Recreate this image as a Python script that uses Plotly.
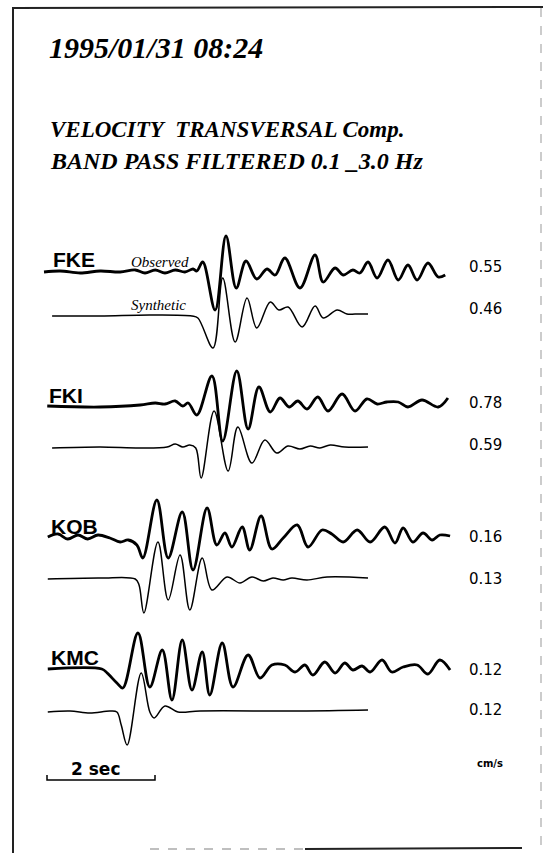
import plotly.graph_objects as go

W, H = 543, 853

# ---------------- data (time in s, amplitude in display units, up = positive) ----------------
stations = ["FKE", "FKI", "KOB", "KMC"]
obs_peaks = ["0.55", "0.78", "0.16", "0.12"]
syn_peaks = ["0.46", "0.59", "0.13", "0.12"]

fke_obs_t = [0.00, 0.30, 0.67, 1.04, 1.41, 1.69, 1.87, 2.06, 2.24, 2.43, 2.61, 2.76, 2.83, 2.94, 3.17, 3.37,
             3.56, 3.74, 3.94, 4.13, 4.28, 4.46, 4.74, 5.02, 5.17, 5.39, 5.54, 5.72, 5.85, 6.00, 6.17, 6.37,
             6.56, 6.74, 6.91, 7.11, 7.30, 7.43]
fke_obs_a = [0, 1, -1, 1, 0, 2, -1, 2, -1, 2, 0, 3, 1, 10, -38, 36,
             -16, 11, -7, 3, -3, 14, -16, 17, -10, 4, -3, 2, -1, 10, -6, 12,
             -8, 7, -8, 9, -5, -3]

fke_syn_t = [0.15, 1.04, 1.96, 2.74, 2.85, 3.13, 3.31, 3.54, 3.76, 3.94, 4.19, 4.35, 4.52, 4.78, 5.02,
             5.17, 5.43, 5.61, 5.76, 6.00]
fke_syn_a = [0, 0, 1, 0, -2, -32, 38, -26, 18, -12, 14, 6, 9, -11, 10,
             -2, 6, 2, 2, 2]

fki_obs_t = [0.06, 1.04, 1.78, 2.06, 2.24, 2.43, 2.57, 2.67, 2.83, 3.11, 3.31, 3.57, 3.78, 3.98, 4.19,
             4.37, 4.54, 4.70, 4.87, 5.07, 5.26, 5.52, 5.76, 5.98, 6.17, 6.35, 6.56, 6.74, 7.00, 7.30, 7.48]
fki_obs_a = [0, -1, 1, 3, 2, 5, 0, 3, -9, 30, -35, 35, -23, 19, -6,
             8, -1, 5, -3, 9, -5, 12, -5, 7, 2, 4, 4, -1, 6, -1, 8]

fki_syn_t = [0.15, 1.04, 1.78, 2.28, 2.43, 2.57, 2.70, 2.81, 2.91, 3.15, 3.41, 3.59, 3.85, 4.09, 4.31,
             4.52, 4.74, 4.93, 5.11, 5.30, 5.57, 6.00]
fki_syn_a = [0, 1, 0, 1, 4, 1, 3, 0, -30, 37, -23, 21, -15, 8, -5,
             2, -1, 2, 0, 3, 1, 1]

kob_obs_t = [0.07, 0.26, 0.44, 0.63, 0.81, 1.00, 1.22, 1.41, 1.56, 1.72, 1.83, 2.09, 2.30, 2.56, 2.76,
             3.02, 3.20, 3.35, 3.48, 3.67, 3.81, 4.02, 4.22, 4.43, 4.69, 4.89, 5.15, 5.33, 5.54, 5.80,
             6.04, 6.31, 6.50, 6.65, 6.83, 7.02, 7.19, 7.33, 7.52]
kob_obs_a = [0, 3, -2, 2, -2, 2, -1, -5, -3, -8, -21, 37, -21, 25, -33,
             29, -8, 4, -10, 10, -13, 21, -12, -1, 12, -10, 7, 3, -5, 7,
             -5, 10, -6, 9, -5, 4, -3, 2, 1]

kob_syn_t = [0.07, 1.04, 1.69, 1.76, 1.85, 2.11, 2.30, 2.52, 2.70, 2.93, 3.11, 3.39, 3.63, 3.85, 4.06,
             4.24, 4.43, 4.59, 4.87, 5.24, 6.00]
kob_syn_a = [0, 1, 0, -6, -34, 37, -21, 24, -31, 21, -11, 2, -4, 2, -2,
             1, -1, 1, -1, 2, 1]

kmc_obs_t = [0.07, 1.07, 1.17, 1.35, 1.46, 1.74, 1.96, 2.19, 2.37, 2.56, 2.74, 2.93, 3.07, 3.30, 3.50,
             3.78, 4.00, 4.22, 4.46, 4.65, 4.83, 4.98, 5.20, 5.39, 5.57, 5.72, 5.89, 6.04, 6.26, 6.44,
             6.65, 6.91, 7.11, 7.33, 7.52]
kmc_obs_a = [0, 0, -4, -14, -19, 36, -18, 19, -31, 29, -21, 17, -26, 26, -18,
             14, -9, 4, 4, -3, 4, -6, 7, -4, 6, -1, 3, -3, 9, -3,
             2, 4, -5, 9, -1]

kmc_syn_t = [0.07, 0.48, 0.85, 1.22, 1.35, 1.43, 1.54, 1.80, 1.96, 2.04, 2.24, 2.48, 2.89, 4.74, 6.00]
kmc_syn_a = [0, 1, -1, 1, 0, -13, -33, 39, 0, -6, 6, 0, 1, 1, 2]

observed = [(fke_obs_t, fke_obs_a), (fki_obs_t, fki_obs_a), (kob_obs_t, kob_obs_a), (kmc_obs_t, kmc_obs_a)]
synthetic = [(fke_syn_t, fke_syn_a), (fki_syn_t, fki_syn_a), (kob_syn_t, kob_syn_a), (kmc_syn_t, kmc_syn_a)]

scale_sec = 2

# ---------------- layout geometry (pixels) ----------------
X0, PXS = 44, 54                       # pixel of t=0, pixels per second
obs_base = [272, 406, 537, 669]
syn_base = [316, 448, 579, 712]

fig = go.Figure()

for (t, a), b in zip(observed, obs_base):
    fig.add_trace(go.Scatter(x=t, y=[b - v for v in a], mode="lines",
                             line=dict(color="black", width=2.8, shape="spline", smoothing=1.0),
                             hoverinfo="skip"))
for (t, a), b in zip(synthetic, syn_base):
    fig.add_trace(go.Scatter(x=t, y=[b - v for v in a], mode="lines",
                             line=dict(color="black", width=1.5, shape="spline", smoothing=1.0),
                             hoverinfo="skip"))

# time scale bar
t0 = (47 - X0) / PXS
fig.add_trace(go.Scatter(x=[t0, t0, t0 + scale_sec, t0 + scale_sec], y=[775, 780, 780, 775],
                         mode="lines", line=dict(color="black", width=1.5), hoverinfo="skip"))

def px(x):
    return x / W

def py(y):
    return 1 - y / H

ann = []
def text(s, x, y, size, family, xanchor="left", yanchor="middle", color="black"):
    ann.append(dict(text=s, x=px(x), y=py(y), xref="paper", yref="paper", showarrow=False,
                    xanchor=xanchor, yanchor=yanchor, font=dict(size=size, family=family, color=color),
                    borderpad=0))

serif = "Liberation Serif"
sans = "Liberation Sans"
text("<b><i>1995/01/31 08:24</i></b>", 48, 47, 30, serif)
text("<b><i>VELOCITY&nbsp; TRANSVERSAL Comp.</i></b>", 49, 130, 23, serif)
text("<b><i>BAND PASS FILTERED 0.1 _3.0 Hz</i></b>", 49, 161, 24, serif)

label_x = [52, 48, 50, 50]
label_y = [259, 395, 526, 657]
for s, lx, ly in zip(stations, label_x, label_y):
    text("<b>" + s + "</b>", lx, ly, 21, sans)

text("<i>Observed</i>", 160, 262, 15, serif, xanchor="center")
text("<i>Synthetic</i>", 158, 305, 15, serif, xanchor="center")

obs_lab_y = [267, 403, 537, 670]
syn_lab_y = [309, 445, 579, 710]
for s, y in zip(obs_peaks, obs_lab_y):
    text(s, 468, y, 15, "DejaVu Sans")
for s, y in zip(syn_peaks, syn_lab_y):
    text(s, 468, y, 15, "DejaVu Sans")
text("<b>cm/s</b>", 490, 763, 10, "DejaVu Sans", xanchor="center")
text("<b>2 sec</b>", 95, 769, 17, "DejaVu Sans", xanchor="center")

shapes = [
    dict(type="line", xref="paper", yref="paper", x0=px(13), x1=px(13), y0=py(7), y1=py(853),
         line=dict(color="#222", width=2)),
    dict(type="line", xref="paper", yref="paper", x0=px(12), x1=px(543), y0=py(8), y1=py(7),
         line=dict(color="#222", width=2)),
    dict(type="line", xref="paper", yref="paper", x0=px(541), x1=px(541), y0=py(8), y1=py(848),
         line=dict(color="#999", width=1, dash="dash")),
    dict(type="line", xref="paper", yref="paper", x0=px(150), x1=px(305), y0=py(849), y1=py(849),
         line=dict(color="#aaa", width=1.5, dash="dash")),
    dict(type="line", xref="paper", yref="paper", x0=px(305), x1=px(522), y0=py(849), y1=py(848),
         line=dict(color="#222", width=2)),
]

fig.update_layout(
    width=W, height=H, margin=dict(l=0, r=0, t=0, b=0),
    paper_bgcolor="white", plot_bgcolor="white", showlegend=False,
    xaxis=dict(range=[-X0 / PXS, (W - X0) / PXS], visible=False, fixedrange=True),
    yaxis=dict(range=[H, 0], visible=False, fixedrange=True),
    annotations=ann, shapes=shapes,
)

fig.write_html("out.html")
